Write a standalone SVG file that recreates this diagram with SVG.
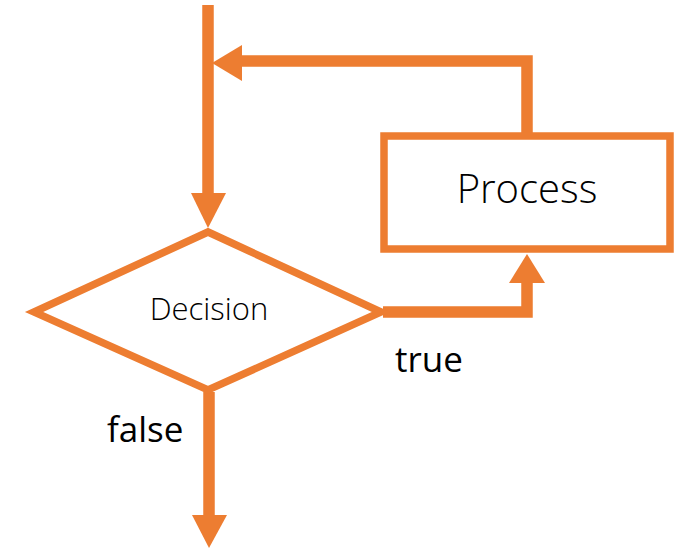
<svg xmlns="http://www.w3.org/2000/svg" width="687" height="549" viewBox="0 0 687 549">
<style>
.shape{fill:#fff;stroke:#ED7D31;stroke-width:7.5}
.edge{fill:none;stroke:#ED7D31;stroke-width:11.5;stroke-linejoin:miter}
.head{fill:#ED7D31}
.node{font-family:"Open Sans","Liberation Sans",sans-serif;font-weight:300;fill:#000;text-anchor:middle}
.lbl{font-family:"Open Sans","Liberation Sans",sans-serif;font-weight:500;fill:#000;font-size:35px}
</style>
<rect width="687" height="549" fill="#fff"/>
<g id="connectors">
  <path class="edge" d="M208 5 V195"/>
  <polygon class="head" points="191,193 226,193 208,228"/>
  <path class="edge" d="M527 133 V61 H240"/>
  <polygon class="head" points="242,45 242,81 212,63"/>
  <path class="edge" d="M383 312 H527 V282"/>
  <polygon class="head" points="509,283 545,283 527,254"/>
  <path class="edge" d="M209 392 V516"/>
  <polygon class="head" points="192,515 227,515 209,548"/>
</g>
<g id="decision">
  <polygon class="shape" points="208,232 34,312 208,390 381,312"/>
  <text class="node" x="209" y="320" font-size="31">Decision</text>
</g>
<g id="process">
  <rect class="shape" x="384" y="136" width="286" height="113"/>
  <text class="node" x="527" y="203" font-size="40">Process</text>
</g>
<g id="labels">
  <text class="lbl" x="107" y="442">false</text>
  <text class="lbl" x="395" y="372">true</text>
</g>
</svg>
